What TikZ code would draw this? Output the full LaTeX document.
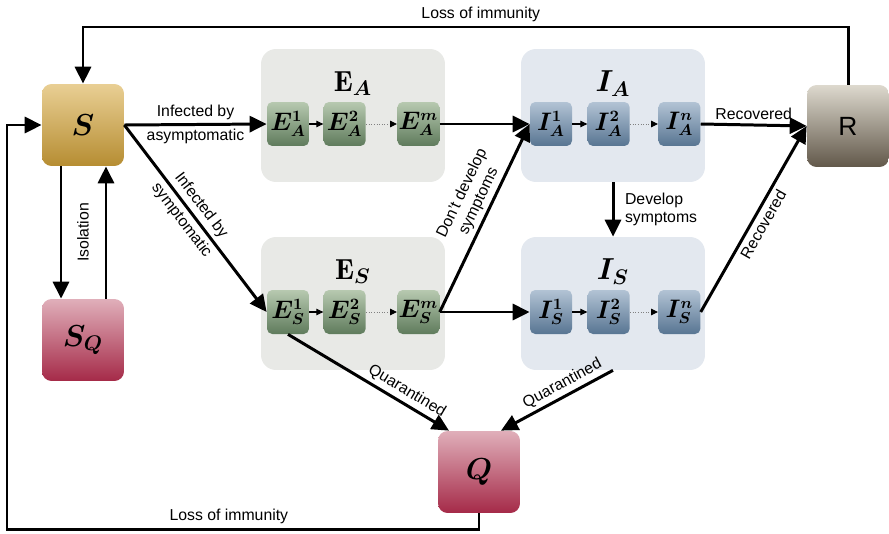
\documentclass[tikz,border=0pt]{standalone}
\usepackage{fontspec}
\usepackage{bm}
\usetikzlibrary{arrows.meta, positioning}
\newfontfamily\labelfont{Liberation Sans}
\definecolor{goldtop}{HTML}{E9CF94}
\definecolor{goldbot}{HTML}{B68D32}
\definecolor{rosetop}{HTML}{E0AFBA}
\definecolor{rosebot}{HTML}{A52A48}
\definecolor{taupetop}{HTML}{DDD9CE}
\definecolor{taupebot}{HTML}{62584A}
\definecolor{sagetop}{HTML}{B7C9B0}
\definecolor{sagebot}{HTML}{5F7B5C}
\definecolor{steeltop}{HTML}{B2C3D4}
\definecolor{steelbot}{HTML}{587592}
\definecolor{sagebg}{HTML}{E8E9E6}
\definecolor{steelbg}{HTML}{E3E8EF}
\tikzset{
  stock/.style={rounded corners=5.5pt, minimum width=1.64cm, minimum height=1.64cm, inner sep=0pt},
  sbox/.style={stock, top color=goldtop, bottom color=goldbot, font=\fontsize{18}{20}\selectfont},
  qbox/.style={stock, top color=rosetop, bottom color=rosebot, font=\fontsize{18}{20}\selectfont},
  rbox/.style={stock, top color=taupetop, bottom color=taupebot, font=\labelfont\fontsize{15}{17}\selectfont},
  grp/.style={rounded corners=8.5pt, minimum width=3.68cm, minimum height=2.66cm, inner sep=0pt},
  egrp/.style={grp, fill=sagebg},
  igrp/.style={grp, fill=steelbg},
  grptitle/.style={font=\fontsize{16.5}{18}\selectfont, inner sep=0pt},
  stage/.style={rounded corners=3pt, minimum width=0.84cm, minimum height=0.88cm, inner sep=0pt, font=\fontsize{13.5}{15}\selectfont},
  ebox/.style={stage, top color=sagetop, bottom color=sagebot},
  ibox/.style={stage, top color=steeltop, bottom color=steelbot},
  flow/.style={line width=1.7pt, -{Triangle[length=0.34cm, width=0.32cm]}},
  step1/.style={line width=0.6pt, -{Triangle[length=0.14cm, width=0.13cm]}},
  stepn/.style={densely dotted, line width=0.5pt, gray, -{Triangle[length=0.14cm, width=0.13cm, black]}},
  lbl/.style={font=\labelfont\fontsize{9}{10.5}\selectfont, inner sep=2pt}
}
\begin{document}
\begin{tikzpicture}[x=0.02cm, y=-0.02cm]
  \useasboundingbox (0,0) rectangle (889,534);

  % compartment groups
  \node[egrp] (EA) at (353,115.5) {};
  \node[egrp] (ES) at (353,303.5) {};
  \node[igrp] (IA) at (613,115.5) {};
  \node[igrp] (IS) at (613,303.5) {};
  \node[grptitle] at ([yshift=-0.7cm]EA.north) {$\mathbf{E}_{\bm{A}}$};
  \node[grptitle] at ([yshift=-0.7cm]ES.north) {$\mathbf{E}_{\bm{S}}$};
  \node[grptitle] at ([yshift=-0.7cm]IA.north) {$\bm{I_A}$};
  \node[grptitle] at ([yshift=-0.7cm]IS.north) {$\bm{I_S}$};

  % stages
  \node[ebox] (ea1) at (288,124) {$\bm{E_A^1}$};
  \node[ebox, right=0.28cm of ea1] (ea2) {$\bm{E_A^2}$};
  \node[ebox, right=0.62cm of ea2] (eam) {$\bm{E_A^m}$};
  \node[ebox] (es1) at (288,312) {$\bm{E_S^1}$};
  \node[ebox, right=0.28cm of es1] (es2) {$\bm{E_S^2}$};
  \node[ebox, right=0.62cm of es2] (esm) {$\bm{E_S^m}$};
  \node[ibox] (ia1) at (551,124) {$\bm{I_A^1}$};
  \node[ibox, right=0.3cm of ia1] (ia2) {$\bm{I_A^2}$};
  \node[ibox, right=0.56cm of ia2] (ian) {$\bm{I_A^n}$};
  \node[ibox] (is1) at (551,312) {$\bm{I_S^1}$};
  \node[ibox, right=0.3cm of is1] (is2) {$\bm{I_S^2}$};
  \node[ibox, right=0.56cm of is2] (isn) {$\bm{I_S^n}$};

  \draw[step1] (ea1) -- (ea2);
  \draw[stepn] (ea2) -- (eam);
  \draw[step1] (es1) -- (es2);
  \draw[stepn] (es2) -- (esm);
  \draw[step1] (ia1) -- (ia2);
  \draw[stepn] (ia2) -- (ian);
  \draw[step1] (is1) -- (is2);
  \draw[stepn] (is2) -- (isn);

  % main compartments
  \node[sbox] (S) at (83,125) {$\bm{S}$};
  \node[qbox] (SQ) at (83,340) {$\bm{S_Q}$};
  \node[qbox] (Q) at (479,472) {$\bm{Q}$};
  \node[rbox] (R) at (848,126) {R};

  % flows
  \draw[flow] (S.east) -- node[lbl, above] {Infected by} node[lbl, below] {asymptomatic} (ea1.west);
  \draw[flow] (S.east) -- node[lbl, sloped, above, pos=0.47] {Infected by} node[lbl, sloped, below, pos=0.47] {symptomatic} (es1.west);
  \draw[flow] ([xshift=-0.44cm]S.south) -- ([xshift=-0.44cm]SQ.north);
  \draw[flow] ([xshift=0.46cm]SQ.north) -- node[lbl, sloped, above=7pt] {Isolation} ([xshift=0.46cm]S.south);
  \draw[flow] (eam.east) -- (ia1.west);
  \draw[flow] (esm.east) -- (is1.west);
  \draw[flow] (esm.east) -- node[lbl, sloped, above, pos=0.56, align=center] {Don’t develop\\symptoms} (ia1.west);
  \draw[flow] (IA.south) -- node[lbl, right=4pt, align=left] {Develop\\symptoms} (IS.north);
  \draw[flow] (ian.east) -- node[lbl, above] {Recovered} (R.west);
  \draw[flow] (isn.east) -- node[lbl, sloped, below] {Recovered} (R.west);
  \draw[flow] (es1.south) -- node[lbl, sloped, above, pos=0.7] {Quarantined} ([xshift=-0.6cm]Q.north);
  \draw[flow] (IS.south) -- node[lbl, sloped, above, pos=0.4] {Quarantined} ([xshift=0.44cm]Q.north);

  % loss of immunity loops
  \coordinate (ltop) at (848,27);
  \coordinate (lbot) at (7,529);
  \draw[flow] (R.north) -- (ltop) -| node[lbl, above, pos=0.24] {Loss of immunity} (S.north);
  \draw[flow] (Q.south) |- node[lbl, above, pos=0.765] {Loss of immunity} (lbot) |- (S.west);
\end{tikzpicture}
\end{document}
